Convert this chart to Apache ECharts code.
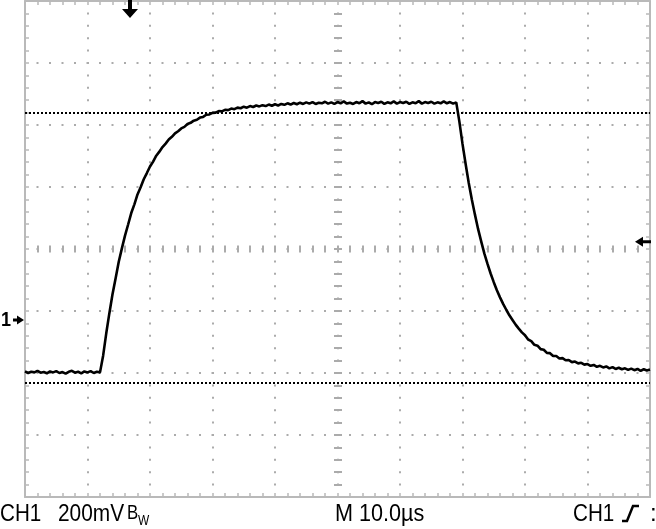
<!DOCTYPE html>
<html><head><meta charset="utf-8">
<script src="https://cdn.jsdelivr.net/npm/echarts@6/dist/echarts.min.js"></script>
<style>html,body{margin:0;padding:0;background:#fff}#c{width:656px;height:529px}</style>
</head><body><div id="c"></div>
<script>
// Time in microseconds (10 us/div), volts relative to screen centre (200 mV/div)
const baseline = [[0,-0.395],[0.5,-0.400],[1,-0.396],[1.5,-0.398],[2,-0.393],[2.5,-0.399],[3,-0.397],[3.5,-0.401],[4,-0.395],[4.5,-0.398],[5,-0.394],[5.5,-0.400],[6,-0.397],[6.5,-0.402],[7,-0.396],[7.5,-0.393],[8,-0.399],[8.5,-0.396],[9,-0.401],[9.5,-0.395],[10,-0.398],[10.5,-0.394],[11,-0.400],[11.5,-0.396],[12,-0.398],[12.16,-0.397]];
const riseEdge = [[12.5,-0.344],[13,-0.272],[13.5,-0.207],[14,-0.146],[14.5,-0.094],[15,-0.041],[15.5,0.002],[16,0.043],[16.5,0.079],[17,0.116],[17.5,0.144],[18,0.176],[18.5,0.199],[19,0.225],[19.5,0.245],[20,0.266],[20.5,0.282],[21,0.301],[21.5,0.314],[22,0.329],[22.5,0.340],[23,0.353],[23.5,0.362],[24,0.373],[24.5,0.380],[25,0.389],[25.5,0.394],[26,0.403],[26.5,0.407],[27,0.414],[27.5,0.417],[28,0.424],[28.5,0.426],[29,0.433],[29.5,0.434],[30,0.439],[30.5,0.440],[31,0.445],[31.5,0.444],[32,0.449],[32.5,0.448],[33,0.453],[33.5,0.451],[34,0.456]];
const plateau = [[34.5,0.454],[35,0.459],[35.5,0.456],[36,0.461],[36.5,0.458],[37,0.463],[37.5,0.460],[38,0.464],[38.5,0.461],[39,0.466],[39.5,0.462],[40,0.467],[40.5,0.463],[41,0.468],[41.5,0.465],[42,0.470],[42.5,0.466],[43,0.471],[43.5,0.467],[44,0.472],[44.5,0.468],[45,0.473],[45.5,0.469],[46,0.474],[46.5,0.468],[47,0.472],[47.5,0.470],[48,0.475],[48.5,0.469],[49,0.473],[49.5,0.468],[50,0.474],[50.5,0.470],[51,0.476],[51.5,0.469],[52,0.472],[52.5,0.468],[53,0.474],[53.5,0.470],[54,0.477],[54.5,0.469],[55,0.473],[55.5,0.467],[56,0.474],[56.5,0.471],[57,0.475],[57.5,0.468],[58,0.473],[58.5,0.470],[59,0.476],[59.5,0.469],[60,0.474],[60.5,0.471],[61,0.475],[61.5,0.468],[62,0.473],[62.5,0.470],[63,0.477],[63.5,0.469],[64,0.474],[64.5,0.471],[65,0.475],[65.5,0.469],[66,0.473],[66.5,0.470],[67,0.476],[67.5,0.470],[68,0.474],[68.5,0.469],[69,0.473],[69.12,0.471]];
const fallEdge = [[69.5,0.411],[70,0.339],[70.5,0.274],[71,0.213],[71.5,0.159],[72,0.110],[72.5,0.064],[73,0.024],[73.5,-0.015],[74,-0.048],[74.5,-0.079],[75,-0.107],[75.5,-0.133],[76,-0.156],[76.5,-0.177],[77,-0.196],[77.5,-0.214],[78,-0.229],[78.5,-0.244],[79,-0.257],[79.5,-0.269]];
const tail = [[80,-0.278],[80.5,-0.292],[81,-0.297],[81.5,-0.309],[82,-0.312],[82.5,-0.323],[83,-0.325],[83.5,-0.335],[84,-0.336],[84.5,-0.345],[85,-0.345],[85.5,-0.353],[86,-0.352],[86.5,-0.359],[87,-0.358],[87.5,-0.365],[88,-0.363],[88.5,-0.369],[89,-0.367],[89.5,-0.373],[90,-0.371],[90.5,-0.377],[91,-0.374],[91.5,-0.380],[92,-0.377],[92.5,-0.382],[93,-0.379],[93.5,-0.385],[94,-0.381],[94.5,-0.387],[95,-0.383],[95.5,-0.388],[96,-0.385],[96.5,-0.390],[97,-0.386],[97.5,-0.391],[98,-0.387],[98.5,-0.393],[99,-0.388],[99.5,-0.392],[100,-0.389]];
const cursorLevelsV = [0.442, -0.435];
const groundLevelV = -0.229;
const triggerLevelV = 0.023;
const triggerTimeUs = 16.8;
const timeRange = [0, 100], timeDiv = 10;
const voltRange = [-0.8, 0.8], voltDiv = 0.2;
const statusTexts = { ch: 'CH1', scale: '200mV', bw: 'B', bwSub: 'W', time: 'M 10.0µs', trig: 'CH1', trigRest: ':' };

const trace = baseline.concat(riseEdge, plateau, fallEdge, tail);
const GRIDC = '#ababab', BORDERC = '#b9b9b9';
const chart = echarts.init(document.getElementById('c'), null, {renderer: 'canvas'});

function borderAxis(extra) {
  return Object.assign({
    type: 'value', axisLabel: {show: false},
    axisLine: {show: true, onZero: false, lineStyle: {color: BORDERC, width: 2}},
    axisTick: {show: true, inside: true, length: 4, lineStyle: {color: BORDERC, width: 1.5}},
    minorTick: {show: true, splitNumber: 5, length: 4, lineStyle: {color: BORDERC, width: 1.5}},
    splitLine: {show: false}
  }, extra);
}

chart.setOption({
  animation: false,
  grid: [
    {left: 25, right: 6, top: 1, height: 496},
    {left: 25, right: 6, top: 245.5, height: 7},
    {left: 334, width: 8, top: 1, height: 496}
  ],
  xAxis: [
    borderAxis({gridIndex: 0, position: 'bottom', min: timeRange[0], max: timeRange[1], interval: timeDiv,
      splitLine: {show: true, lineStyle: {color: GRIDC, width: 2, type: [2, 10.4], dashOffset: 1}}}),
    borderAxis({gridIndex: 0, position: 'top', min: timeRange[0], max: timeRange[1], interval: timeDiv}),
    {gridIndex: 1, type: 'value', min: timeRange[0], max: timeRange[1], interval: timeDiv,
      axisLine: {show: false}, axisTick: {show: false}, axisLabel: {show: false},
      minorTick: {show: false, splitNumber: 5},
      splitLine: {show: true, lineStyle: {color: GRIDC, width: 2}},
      minorSplitLine: {show: true, lineStyle: {color: GRIDC, width: 2}}},
    {gridIndex: 2, type: 'value', show: false, min: 0, max: 1}
  ],
  yAxis: [
    borderAxis({gridIndex: 0, position: 'left', min: voltRange[0], max: voltRange[1], interval: voltDiv,
      splitLine: {show: true, lineStyle: {color: GRIDC, width: 2, type: [2, 10.5], dashOffset: 1}}}),
    borderAxis({gridIndex: 0, position: 'right', min: voltRange[0], max: voltRange[1], interval: voltDiv}),
    {gridIndex: 1, type: 'value', show: false, min: 0, max: 1},
    {gridIndex: 2, type: 'value', min: voltRange[0], max: voltRange[1], interval: voltDiv,
      axisLine: {show: false}, axisTick: {show: false}, axisLabel: {show: false},
      minorTick: {show: false, splitNumber: 5},
      splitLine: {show: true, lineStyle: {color: GRIDC, width: 2}},
      minorSplitLine: {show: true, lineStyle: {color: GRIDC, width: 2}}}
  ],
  series: [{
    type: 'line', xAxisIndex: 0, yAxisIndex: 0, data: trace, showSymbol: false, symbol: 'none',
    lineStyle: {color: '#000', width: 2.6}, z: 5,
    markLine: {silent: true, symbol: ['none', 'none'], label: {show: false},
      lineStyle: {color: '#000', width: 2, type: [2, 2]},
      data: cursorLevelsV.map(v => ({yAxis: v}))}
  }]
});

const tx = chart.convertToPixel({xAxisIndex: 0}, triggerTimeUs);
const gy = chart.convertToPixel({yAxisIndex: 0}, groundLevelV);
const ty = chart.convertToPixel({yAxisIndex: 0}, triggerLevelV);
const F = '"Liberation Sans", Arial, sans-serif';
function txt(x, y, s, size, sx, weight) {
  return {type: 'text', x: x, y: y, scaleX: sx || 0.82, z: 10,
    style: {text: s, font: (weight || 'normal') + ' ' + size + 'px ' + F, fill: '#000', verticalAlign: 'middle', align: 'left'}};
}
chart.setOption({graphic: [
  {type: 'polygon', z: 10, shape: {points: [[tx-2,0],[tx+2,0],[tx+2,9],[tx+8,9],[tx,18],[tx-8,9],[tx-2,9]]}, style: {fill: '#000'}},
  {type: 'polygon', z: 10, shape: {points: [[13,gy-1.5],[17,gy-1.5],[17,gy-4.5],[24,gy],[17,gy+4.5],[17,gy+1.5],[13,gy+1.5]]}, style: {fill: '#000'}},
  txt(1, gy, '1', 20, 0.9, 'bold'),
  {type: 'polygon', z: 10, shape: {points: [[635,ty],[643,ty-5],[643,ty-1.5],[651,ty-1.5],[651,ty+1.5],[643,ty+1.5],[643,ty+5]]}, style: {fill: '#000'}},
  txt(0, 514, statusTexts.ch, 24, 0.86),
  txt(58, 514, statusTexts.scale, 24, 0.87),
  txt(127, 513, statusTexts.bw, 21, 0.8),
  txt(138, 521, statusTexts.bwSub, 14, 0.85),
  txt(335, 514, statusTexts.time, 24, 0.9),
  txt(573, 514, statusTexts.trig, 24, 0.86),
  {type: 'polyline', z: 10, shape: {points: [[622,521],[627,521],[633,506],[639,506]]}, style: {stroke: '#000', lineWidth: 2.5, fill: null}},
  txt(650, 514, statusTexts.trigRest, 24, 1)
]});
</script>
</body></html>
